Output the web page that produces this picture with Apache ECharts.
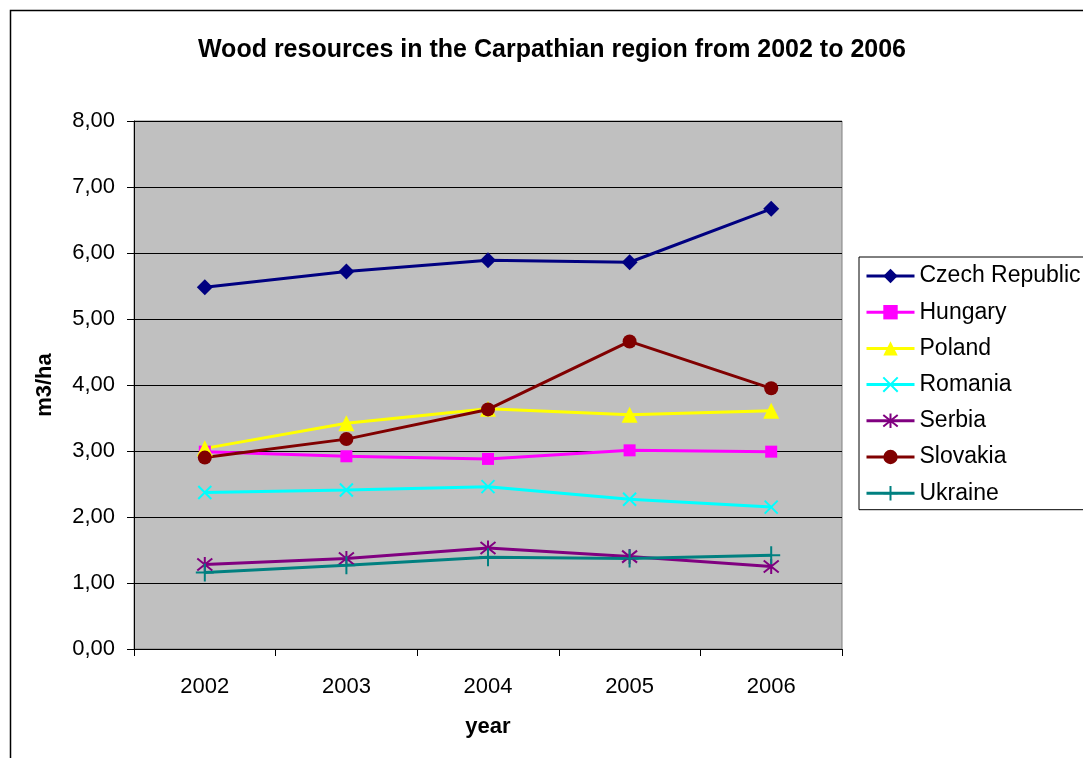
<!DOCTYPE html>
<html>
<head>
<meta charset="utf-8">
<script src="https://cdn.jsdelivr.net/npm/echarts@6/dist/echarts.min.js"></script>
<style>
  html, body { margin: 0; padding: 0; background: #fff; }
  #chart { width: 1083px; height: 758px; }
</style>
</head>
<body>
<div id="chart"></div>
<script>
const years = ['2002', '2003', '2004', '2005', '2006'];
const czech = [5.48, 5.72, 5.89, 5.86, 6.67];
const hungary = [2.99, 2.92, 2.88, 3.01, 2.99];
const poland = [3.04, 3.42, 3.64, 3.55, 3.61];
const romania = [2.37, 2.41, 2.46, 2.27, 2.15];
const serbia = [1.28, 1.37, 1.53, 1.40, 1.25];
const slovakia = [2.90, 3.18, 3.63, 4.66, 3.95];
const ukraine = [1.16, 1.27, 1.39, 1.37, 1.42];

const crossPath = 'path://M0,0L10,10M10,0L0,10';
const starPath = 'path://M0,1L10,9M10,1L0,9M5,0L5,10';
const plusPath = 'path://M5,0L5,10M1,5L9,5';

function mkSeries(name, data, color, symbol, size, stroked) {
  return {
    name: name,
    type: 'line',
    data: data,
    symbol: symbol,
    symbolSize: size,
    lineStyle: { color: color, width: 3 },
    itemStyle: stroked
      ? { color: 'transparent', borderColor: color, borderWidth: 2 }
      : { color: color, borderWidth: 0 },
    emphasis: { disabled: true }
  };
}

const chart = echarts.init(document.getElementById('chart'));
const fontFam = 'Liberation Sans, Arial, sans-serif';

const option = {
  animation: false,
  textStyle: { fontFamily: fontFam, color: '#000' },
  graphic: [{
    type: 'rect',
    shape: { x: 10.5, y: 10.5, width: 1200, height: 900 },
    style: { fill: 'none', stroke: '#000', lineWidth: 1.5 },
    silent: true
  }],
  title: {
    text: 'Wood resources in the Carpathian region from 2002 to 2006',
    left: 547,
    top: 33,
    textAlign: 'center',
    textStyle: { fontFamily: fontFam, fontSize: 25, fontWeight: 'bold', color: '#000' }
  },
  legend: {
    orient: 'vertical',
    left: 859,
    top: 257,
    padding: [7.5, 200, 5, 6],
    itemGap: 13.2,
    itemWidth: 48,
    itemHeight: 18,
    borderColor: '#000',
    borderWidth: 1,
    lineStyle: { width: 3 },
    textStyle: { fontFamily: fontFam, fontSize: 23, lineHeight: 23, color: '#000', padding: [0, 0, 0, 0] },
    data: ['Czech Republic', 'Hungary', 'Poland', 'Romania', 'Serbia', 'Slovakia', 'Ukraine']
  },
  grid: {
    left: 134,
    top: 121,
    width: 708,
    height: 528,
    show: true,
    backgroundColor: '#c0c0c0',
    borderColor: '#808080',
    borderWidth: 1
  },
  xAxis: {
    type: 'category',
    data: years,
    boundaryGap: true,
    name: 'year',
    nameLocation: 'middle',
    nameGap: 67,
    nameTextStyle: { fontSize: 22, fontWeight: 'bold', color: '#000' },
    axisLine: { lineStyle: { color: '#000', width: 1 } },
    axisTick: { show: true, inside: false, length: 7, alignWithLabel: false, lineStyle: { color: '#000' } },
    axisLabel: { fontSize: 22, color: '#000', margin: 27 },
    splitLine: { show: false }
  },
  yAxis: {
    type: 'value',
    min: 0,
    max: 8,
    interval: 1,
    name: 'm3/ha',
    nameLocation: 'middle',
    nameGap: 78,
    nameRotate: 90,
    nameTextStyle: { fontSize: 22, fontWeight: 'bold', color: '#000' },
    axisLine: { show: true, lineStyle: { color: '#000', width: 1 } },
    axisTick: { show: true, inside: false, length: 7, lineStyle: { color: '#000' } },
    axisLabel: {
      fontSize: 22,
      color: '#000',
      margin: 19,
      formatter: v => v.toFixed(2).replace('.', ',')
    },
    splitLine: { show: true, lineStyle: { color: '#000', width: 1 } }
  },
  series: [
    mkSeries('Czech Republic', czech, '#000080', 'diamond', 16, false),
    mkSeries('Hungary', hungary, '#ff00ff', 'rect', 12, false),
    mkSeries('Poland', poland, '#ffff00', 'triangle', 16, false),
    mkSeries('Romania', romania, '#00ffff', crossPath, 13, true),
    mkSeries('Serbia', serbia, '#800080', starPath, 15, true),
    mkSeries('Slovakia', slovakia, '#800000', 'circle', 14, false),
    mkSeries('Ukraine', ukraine, '#008080', plusPath, 18, true)
  ]
};

chart.setOption(option);
window.addEventListener('resize', () => chart.resize());
</script>
</body>
</html>
